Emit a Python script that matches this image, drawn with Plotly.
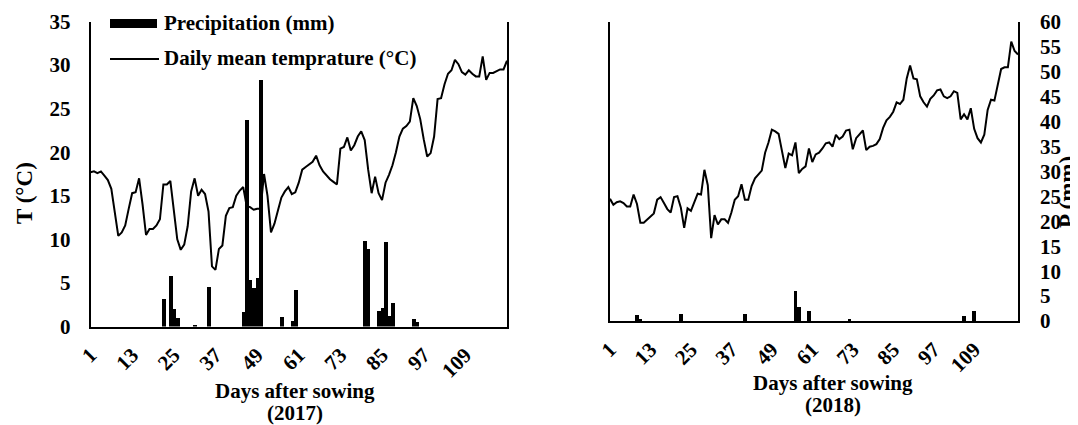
import plotly.graph_objects as go

# ---------------- data ----------------
days_2017 = list(range(1, 122))
temp_2017 = [17.7, 17.8, 17.6, 17.8, 17.3, 16.8, 15.8, 13.0, 10.4, 10.8,
             11.6, 13.5, 15.3, 15.4, 17.0, 14.0, 10.5, 11.2, 11.2, 11.6,
             12.3, 16.3, 16.3, 16.7, 13.5, 10.0, 8.8, 9.4, 11.5, 15.5,
             17.0, 15.0, 15.7, 15.2, 13.2, 6.9, 6.5, 8.9, 9.3, 12.7,
             13.6, 13.7, 15.0, 15.6, 16.0, 13.8, 13.7, 13.4, 13.5, 13.5,
             17.5, 15.0, 10.8, 11.8, 13.3, 14.8, 15.5, 16.0, 15.2, 15.4,
             16.5, 18.0, 18.3, 18.6, 18.9, 19.6, 18.5, 17.8, 17.3, 16.9,
             16.6, 16.3, 20.4, 20.6, 21.7, 20.2, 20.8, 21.8, 22.4, 21.4,
             18.0, 15.3, 17.2, 15.3, 14.5, 16.5, 17.4, 18.5, 20.0, 21.8,
             22.7, 23.0, 23.5, 26.2, 25.3, 23.8, 21.5, 19.5, 19.9, 21.8,
             26.1, 26.2, 27.8, 29.0, 29.4, 30.6, 30.1, 29.2, 28.9, 29.4,
             29.0, 28.7, 28.7, 31.0, 28.3, 29.1, 29.1, 29.3, 29.5, 29.5,
             30.5]
rain_days_2017 = [22, 24, 25, 26, 31, 35, 45, 46, 47, 48, 49, 50,
                  56, 59, 60, 80, 81, 84, 85, 86, 87, 88, 94, 95]
rain_mm_2017 = [3.2, 5.8, 2.1, 1.0, 0.2, 4.6, 1.75, 23.8, 5.4, 4.5, 5.6, 28.4,
                1.1, 0.7, 4.3, 9.9, 8.9, 1.8, 2.2, 9.7, 1.3, 2.8, 0.9, 0.6]

days_2018 = list(range(1, 123))
temp_2018 = [14.3, 13.6, 13.9, 14.0, 13.8, 13.4, 13.4, 14.8, 13.7, 11.5,
             11.5, 11.9, 12.3, 12.6, 14.2, 14.5, 13.8, 13.1, 12.7, 14.5,
             14.6, 13.3, 10.9, 13.2, 12.9, 13.9, 14.9, 14.8, 17.7, 15.9,
             9.7, 12.4, 11.3, 11.9, 11.9, 11.5, 12.7, 14.2, 14.6, 16.0,
             14.2, 14.2, 15.8, 16.7, 17.2, 17.6, 19.7, 20.9, 22.4, 22.2,
             21.9, 20.1, 17.9, 19.6, 19.4, 20.9, 17.3, 17.8, 18.1, 20.2,
             18.6, 19.5, 19.7, 20.2, 20.8, 20.9, 20.4, 21.8, 21.3, 21.6,
             22.3, 22.4, 20.1, 21.4, 21.8, 22.3, 20.0, 20.4, 20.5, 20.7,
             21.3, 22.6, 23.5, 23.9, 24.5, 25.6, 25.4, 25.9, 28.4, 29.9,
             28.4, 28.3, 26.3, 25.6, 25.1, 26.0, 26.4, 27.0, 27.1, 26.3,
             26.1, 26.3, 26.9, 26.7, 23.6, 24.2, 23.6, 24.9, 22.5, 21.4,
             20.9, 21.8, 24.7, 25.9, 25.8, 27.5, 29.5, 29.7, 29.7, 32.7,
             31.6, 31.2]
rain_days_2018 = [9, 10, 22, 41, 56, 57, 60, 72, 106, 109]
rain_mm_2018 = [1.3, 0.5, 1.5, 1.4, 6.0, 2.8, 2.0, 0.4, 1.0, 2.0]

tick_days = [1, 13, 25, 37, 49, 61, 73, 85, 97, 109]
t_ticks = [0, 5, 10, 15, 20, 25, 30, 35]
p_ticks = [0, 5, 10, 15, 20, 25, 30, 35, 40, 45, 50, 55, 60]

# ---------------- layout helpers ----------------
# the page body keeps its default 8px margin, so the figure is drawn
# 8px in from the window corner; positions below are window pixels.
OFF = 8
W, H = 1078 - OFF, 425 - OFF
def fx(px):
    return (px - OFF) / W
def fy(py):
    return 1 - (py - OFF) / H

FONT = "Liberation Serif"
tickfont = dict(family=FONT, size=21, color="black", weight="bold")

fig = go.Figure()
fig.add_trace(go.Bar(x=rain_days_2017, y=rain_mm_2017, marker_color="black",
                     marker_line_width=0, xaxis="x", yaxis="y",
                     name="Precipitation (mm)", showlegend=False))
fig.add_trace(go.Scatter(x=days_2017, y=temp_2017, mode="lines",
                         line=dict(color="black", width=2), xaxis="x", yaxis="y",
                         name="Daily mean temprature (°C)", showlegend=False))
fig.add_trace(go.Bar(x=rain_days_2018, y=rain_mm_2018, marker_color="black",
                     marker_line_width=0, xaxis="x2", yaxis="y3",
                     showlegend=False))
fig.add_trace(go.Scatter(x=days_2018, y=temp_2018, mode="lines",
                         line=dict(color="black", width=2), xaxis="x2", yaxis="y4",
                         showlegend=False))

axis_common = dict(showgrid=False, zeroline=False, ticks="", linecolor="black",
                   tickfont=tickfont, automargin=False)

fig.update_layout(
    width=W, height=H, margin=dict(l=0, r=0, t=0, b=0, pad=0, autoexpand=False),
    paper_bgcolor="white", plot_bgcolor="white",
    bargap=0.0, showlegend=False,
    xaxis=dict(domain=[fx(90.5), fx(507)], range=[1, 121], anchor="y",
               tickmode="array", tickvals=tick_days, tickangle=-45,
               showline=True, linewidth=2, ticklabelstandoff=6, **axis_common),
    yaxis=dict(domain=[fy(326.5), fy(21.5)], range=[0, 35], anchor="x",
               tickmode="array", tickvals=t_ticks, showline=True, mirror=True,
               linewidth=1.6, ticklabelstandoff=14, **axis_common),
    xaxis2=dict(domain=[fx(610), fx(1018)], range=[1, 122], anchor="y3",
                tickmode="array", tickvals=tick_days, tickangle=-45,
                showline=True, linewidth=2, ticklabelstandoff=6, **axis_common),
    yaxis3=dict(domain=[fy(321), fy(22)], range=[0, 60], anchor="x2", side="right",
                tickmode="array", tickvals=p_ticks, showline=True, mirror=True,
                linewidth=1.6, ticklabelstandoff=16, **axis_common),
    yaxis4=dict(domain=[fy(321), fy(22)], range=[0, 35], anchor="x2",
                overlaying="y3", visible=False, automargin=False),
)

txt = dict(family=FONT, size=21, color="black", weight="bold")
ann = []
# axis titles
ann.append(dict(text="T (°C)", x=fx(24), y=fy(193), textangle=-90,
                font=dict(family=FONT, size=23, color="black", weight="bold")))
ann.append(dict(text="P (mm)", x=fx(1068), y=fy(192), textangle=-90,
                font=dict(family=FONT, size=23, color="black", weight="bold")))
ann.append(dict(text="Days after sowing", x=fx(295), y=fy(391), font=txt))
ann.append(dict(text="(2017)", x=fx(295), y=fy(413), font=txt))
ann.append(dict(text="Days after sowing", x=fx(833), y=fy(383), font=txt))
ann.append(dict(text="(2018)", x=fx(833), y=fy(405), font=txt))
# legend labels
ann.append(dict(text="Precipitation (mm)", x=fx(162), y=fy(23), xanchor="left", font=txt))
ann.append(dict(text="Daily mean temprature (°C)", x=fx(162), y=fy(58), xanchor="left", font=txt))
for a in ann:
    a.update(xref="paper", yref="paper", showarrow=False)
    a.setdefault("xanchor", "center")
    a.setdefault("yanchor", "middle")
fig.update_layout(annotations=ann)

# legend keys
fig.add_shape(type="rect", xref="paper", yref="paper",
              x0=fx(110), x1=fx(157), y0=fy(28), y1=fy(19),
              fillcolor="black", line_width=0)
fig.add_shape(type="line", xref="paper", yref="paper",
              x0=fx(110), x1=fx(159), y0=fy(59), y1=fy(59),
              line=dict(color="black", width=2))

fig.write_html("out.html")
